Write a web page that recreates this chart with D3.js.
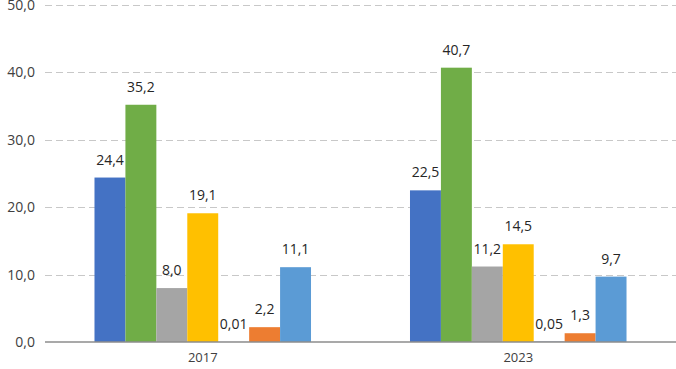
<!DOCTYPE html>
<html>
<head>
<meta charset="utf-8">
<script src="https://cdn.jsdelivr.net/npm/d3@7"></script>
<style>
  html, body { margin: 0; padding: 0; background: #fff; }
  svg { display: block; font-family: "Open Sans", sans-serif; }
</style>
</head>
<body>
<div id="chart"></div>
<script>
const years = ["2017", "2023"];
const series = ["s1", "s2", "s3", "s4", "s5", "s6", "s7"];
const colors = ["#4472C4", "#70AD47", "#A5A5A5", "#FFC000", "#264478", "#ED7D31", "#5B9BD5"];
const values2017 = [24.4, 35.2, 8.0, 19.1, 0.01, 2.2, 11.1];
const values2023 = [22.5, 40.7, 11.2, 14.5, 0.05, 1.3, 9.7];
const labels2017 = ["24,4", "35,2", "8,0", "19,1", "0,01", "2,2", "11,1"];
const labels2023 = ["22,5", "40,7", "11,2", "14,5", "0,05", "1,3", "9,7"];
const yTicks = [0, 10, 20, 30, 40, 50];
const yTickLabels = ["0,0", "10,0", "20,0", "30,0", "40,0", "50,0"];

const width = 676;
const height = 369;
const margin = { top: 5, right: 0, bottom: 27, left: 45 };

const svg = d3.select("#chart")
  .append("svg")
  .attr("width", width)
  .attr("height", height)
  .attr("viewBox", [0, 0, width, height]);

// one row per year, one bar per series
const rows = years.map((year, i) => ({
  year,
  values: i === 0 ? values2017 : values2023,
  labels: i === 0 ? labels2017 : labels2023
}));

const x0 = d3.scaleBand()
  .domain(years)
  .range([margin.left, width - margin.right]);

const x1 = d3.scaleBand()
  .domain(series)
  .range([0, x0.bandwidth()])
  .paddingOuter(1.6);

const y = d3.scaleLinear()
  .domain([0, 50])
  .range([height - margin.bottom, margin.top]);

// dashed gridlines
svg.append("g")
  .selectAll("line")
  .data(yTicks.filter(d => d > 0))
  .join("line")
  .attr("x1", margin.left)
  .attr("x2", width - margin.right)
  .attr("y1", d => Math.round(y(d)) + 0.5)
  .attr("y2", d => Math.round(y(d)) + 0.5)
  .attr("stroke", "#c8c8c8")
  .attr("stroke-width", 1.2)
  .attr("stroke-dasharray", "7,4");

// y tick labels
svg.append("g")
  .selectAll("text")
  .data(yTicks)
  .join("text")
  .attr("x", 35)
  .attr("y", d => y(d))
  .attr("dy", "0.35em")
  .attr("text-anchor", "end")
  .attr("font-size", 14)
  .attr("fill", "#404040")
  .text((d, i) => yTickLabels[i]);

// bars
const groups = svg.append("g")
  .selectAll("g")
  .data(rows)
  .join("g")
  .attr("transform", d => `translate(${x0(d.year)},0)`);

groups.selectAll("rect")
  .data(d => d.values.map((v, i) => ({ key: series[i], value: v })))
  .join("rect")
  .attr("x", d => x1(d.key))
  .attr("y", d => y(d.value))
  .attr("width", x1.bandwidth())
  .attr("height", d => y(0) - y(d.value))
  .attr("fill", (d, i) => colors[i]);

// value labels
groups.selectAll("text")
  .data(d => d.values.map((v, i) => ({ key: series[i], value: v, label: d.labels[i] })))
  .join("text")
  .attr("x", d => x1(d.key) + x1.bandwidth() / 2)
  .attr("y", d => y(d.value) - 13)
  .attr("text-anchor", "middle")
  .attr("font-size", 14)
  .attr("fill", "#262626")
  .text(d => d.label);

// x axis line
svg.append("line")
  .attr("x1", margin.left)
  .attr("x2", width - margin.right)
  .attr("y1", y(0))
  .attr("y2", y(0))
  .attr("stroke", "#8c8c8c")
  .attr("stroke-width", 1.3);

// category labels
svg.append("g")
  .selectAll("text")
  .data(years)
  .join("text")
  .attr("x", d => x0(d) + x0.bandwidth() / 2)
  .attr("y", 362)
  .attr("text-anchor", "middle")
  .attr("font-size", 13)
  .attr("fill", "#404040")
  .text(d => d);
</script>
</body>
</html>
